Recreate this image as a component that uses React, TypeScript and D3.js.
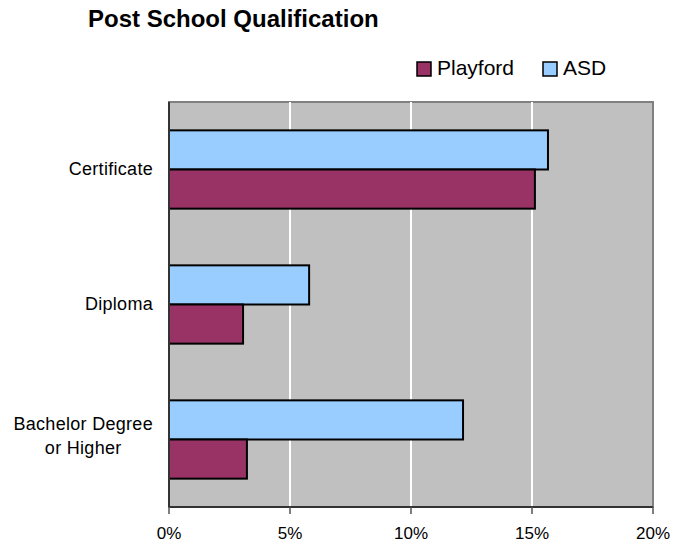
import React, { useEffect, useRef, useState } from "react";
import * as d3 from "d3";

const categories = ["Certificate", "Diploma", "Bachelor Degree\nor Higher"];
const playford = [15.12, 3.06, 3.22];
const asd = [15.66, 5.79, 12.15];
const xTicks = [0, 5, 10, 15, 20];
const seriesNames = ["Playford", "ASD"];
const seriesColors = ["#993366", "#99CCFF"];

const W = 686;
const H = 544;
const left = 169;
const right = 653;
const top = 102;
const bottom = 507;
const labelRight = 153;

function CategoryLabel({ text, cy }: { text: string; cy: number }) {
  const ref = useRef<SVGTextElement>(null);
  const [width, setWidth] = useState(0);
  const lines = text.split("\n");
  useEffect(() => {
    if (ref.current && lines.length > 1) {
      setWidth(ref.current.getBBox().width);
    }
  }, [text]);
  const lh = 24;
  const multi = lines.length > 1;
  const cx = multi ? labelRight - (width || 140) / 2 : labelRight;
  return (
    <text
      ref={ref}
      fontSize={18}
      letterSpacing={0.3}
      textAnchor={multi ? "middle" : "end"}
      fill="#000"
    >
      {lines.map((l, k) => (
        <tspan key={k} x={cx} y={cy + 5 - (lines.length - 1) * 15 + k * lh}>
          {l}
        </tspan>
      ))}
    </text>
  );
}

export default function App() {
  const x = d3.scaleLinear().domain([0, 20]).range([left, right]);
  const y = d3
    .scaleBand<string>()
    .domain(categories)
    .range([top, bottom])
    .paddingInner(0.42)
    .paddingOuter(0.21);
  const sub = d3
    .scaleBand<string>()
    .domain(["ASD", "Playford"])
    .range([0, y.bandwidth()]);
  const font = "'Liberation Sans', Arial, sans-serif";

  return (
    <svg
      width={W}
      height={H}
      style={{ position: "absolute", left: 0, top: 0, fontFamily: font }}
    >
      <rect x={0} y={0} width={W} height={H} fill="#fff" />
      <text x={88} y={27} fontSize={24} fontWeight="bold" fill="#000">
        Post School Qualification
      </text>
      {/* legend */}
      <g>
        <rect x={417} y={62} width={14} height={14} fill={seriesColors[0]} stroke="#000" strokeWidth={1.5} />
        <text x={437} y={75} fontSize={21} fill="#000">{seriesNames[0]}</text>
        <rect x={543} y={62} width={14} height={14} fill={seriesColors[1]} stroke="#000" strokeWidth={1.5} />
        <text x={563} y={75} fontSize={21} fill="#000">{seriesNames[1]}</text>
      </g>
      {/* plot area */}
      <rect x={left} y={top} width={right - left} height={bottom - top} fill="#C0C0C0" stroke="#808080" strokeWidth={2} />
      {xTicks.slice(1, -1).map((t) => (
        <line key={t} x1={x(t)} x2={x(t)} y1={top} y2={bottom} stroke="#fff" strokeWidth={2} />
      ))}
      {/* bars */}
      {categories.map((c, i) => (
        <g key={c}>
          <rect
            x={x(0)}
            y={(y(c) as number) + (sub("ASD") as number)}
            width={x(asd[i]) - x(0)}
            height={sub.bandwidth()}
            fill={seriesColors[1]}
            stroke="#000"
            strokeWidth={2}
          />
          <rect
            x={x(0)}
            y={(y(c) as number) + (sub("Playford") as number)}
            width={x(playford[i]) - x(0)}
            height={sub.bandwidth()}
            fill={seriesColors[0]}
            stroke="#000"
            strokeWidth={2}
          />
        </g>
      ))}
      {/* axes */}
      <line x1={left} x2={left} y1={top} y2={bottom} stroke="#333" strokeWidth={2} />
      <line x1={left} x2={right} y1={bottom} y2={bottom} stroke="#333" strokeWidth={2} />
      {xTicks.map((t) => (
        <g key={t}>
          <line x1={x(t)} x2={x(t)} y1={bottom} y2={bottom + 7} stroke="#555" strokeWidth={1.5} />
          <text x={x(t)} y={539} fontSize={17} textAnchor="middle" fill="#000">
            {t}%
          </text>
        </g>
      ))}
      {categories.map((c) => (
        <CategoryLabel key={c} text={c} cy={(y(c) as number) + y.bandwidth() / 2} />
      ))}
    </svg>
  );
}
